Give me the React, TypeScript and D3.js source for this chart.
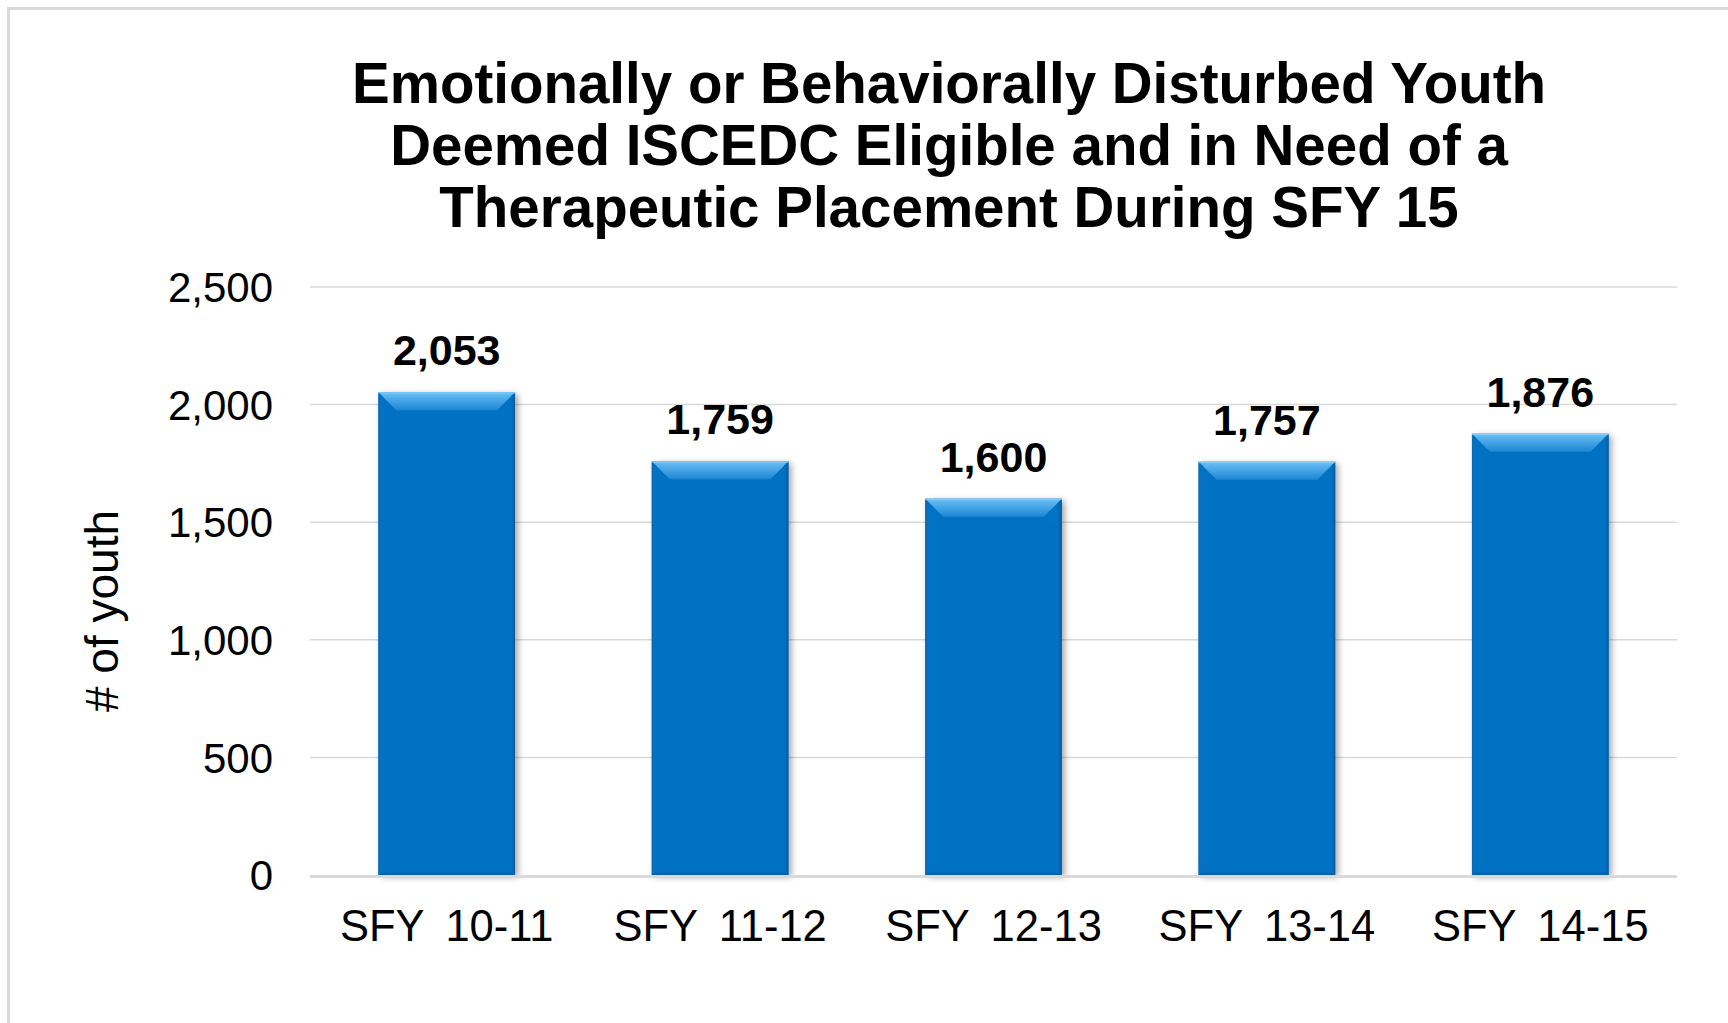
import * as d3 from "d3";

const categories = ["SFY 10-11", "SFY 11-12", "SFY 12-13", "SFY 13-14", "SFY 14-15"];
const youthCounts = [2053, 1759, 1600, 1757, 1876];
const yTicks = [0, 500, 1000, 1500, 2000, 2500];
const titleLines = [
  "Emotionally or Behaviorally Disturbed Youth",
  "Deemed ISCEDC Eligible and in Need of a",
  "Therapeutic Placement During SFY 15",
];

const W = 1728;
const H = 1023;
const font = "'Liberation Sans', Arial, sans-serif";
const fmt = d3.format(",");

export default function App() {
  const x = d3.scaleBand<string>().domain(categories).range([310, 1677]).paddingInner(0.5).paddingOuter(0.25);
  const y = d3.scaleLinear().domain([0, 2500]).range([875, 287]);
  const bw = x.bandwidth();
  const bev = 18;

  return (
    <svg width={W} height={H} style={{ position: "absolute", left: 0, top: 0 }} fontFamily={font}>
      <defs>
        <linearGradient id="topBevel" x1="0" y1="0" x2="0" y2="1">
          <stop offset="0%" stopColor="#6cc0f4" />
          <stop offset="100%" stopColor="#1c86d4" />
        </linearGradient>
        <linearGradient id="rightBevel" x1="0" y1="0" x2="1" y2="0">
          <stop offset="0%" stopColor="#0670c0" />
          <stop offset="100%" stopColor="#055ca4" />
        </linearGradient>
        <linearGradient id="leftBevel" x1="1" y1="0" x2="0" y2="0">
          <stop offset="0%" stopColor="#0672c2" />
          <stop offset="100%" stopColor="#0a6ab6" />
        </linearGradient>
        <linearGradient id="bottomBevel" x1="0" y1="0" x2="0" y2="1">
          <stop offset="0%" stopColor="#0670c0" />
          <stop offset="100%" stopColor="#055ea8" />
        </linearGradient>
        <filter id="shadow" x="-20%" y="-20%" width="140%" height="140%">
          <feDropShadow dx="3" dy="2" stdDeviation="3" floodColor="#000" floodOpacity="0.35" />
        </filter>
      </defs>
      <rect x={0} y={0} width={W} height={H} fill="#fff" />
      <rect x={8.5} y={8.5} width={W + 20} height={H + 20} fill="none" stroke="#d9d9d9" strokeWidth={3} />

      {titleLines.map((t, i) => (
        <text key={i} x={949} y={103 + i * 62} textAnchor="middle" fontSize={56.5} fontWeight="bold" fill="#000">
          {t}
        </text>
      ))}

      {yTicks.filter((t) => t > 0).map((t) => (
        <line key={t} x1={310} x2={1677} y1={y(t)} y2={y(t)} stroke="#d9d9d9" strokeWidth={1.5} />
      ))}
      {yTicks.map((t) => (
        <text key={t} x={273} y={y(t)} dy="0.36em" textAnchor="end" fontSize={42} fill="#000">
          {fmt(t)}
        </text>
      ))}

      <text transform="translate(118,611) rotate(-90)" textAnchor="middle" fontSize={46} fill="#000">
        # of youth
      </text>

      {categories.map((c, i) => {
        const x0 = x(c)!;
        const v = youthCounts[i];
        const y0 = y(v);
        const y1 = y(0);
        const x1 = x0 + bw;
        return (
          <g key={c}>
            <rect x={x0} y={y0} width={bw} height={y1 - y0} fill="#0672c4" filter="url(#shadow)" />
            <path d={`M${x0},${y0}L${x1},${y0}L${x1 - bev},${y0 + bev}L${x0 + bev},${y0 + bev}Z`} fill="url(#topBevel)" />
            <path d={`M${x1},${y0}L${x1},${y1}L${x1 - 4},${y1 - 4}L${x1 - 4},${y0 + 4}Z`} fill="url(#rightBevel)" />
            <path d={`M${x0},${y0}L${x0 + 4},${y0 + 4}L${x0 + 4},${y1 - 4}L${x0},${y1}Z`} fill="url(#leftBevel)" />
            <path d={`M${x0},${y1}L${x0 + 4},${y1 - 4}L${x1 - 4},${y1 - 4}L${x1},${y1}Z`} fill="url(#bottomBevel)" />
            <rect x={x0} y={y0} width={bw} height={1.5} fill="#8fd0f8" opacity={0.7} />
            <text x={x0 + bw / 2} y={y0 - 27} textAnchor="middle" fontSize={43} fontWeight="bold" fill="#000">
              {fmt(v)}
            </text>
            <text x={x0 + bw / 2} y={941} textAnchor="middle" fontSize={43.5} fill="#000">
              {c.replace(" ", "\u00a0\u2009")}
            </text>
          </g>
        );
      })}

      <line x1={310} x2={1677} y1={y(0) + 1.5} y2={y(0) + 1.5} stroke="#d9d9d9" strokeWidth={3} />
    </svg>
  );
}
